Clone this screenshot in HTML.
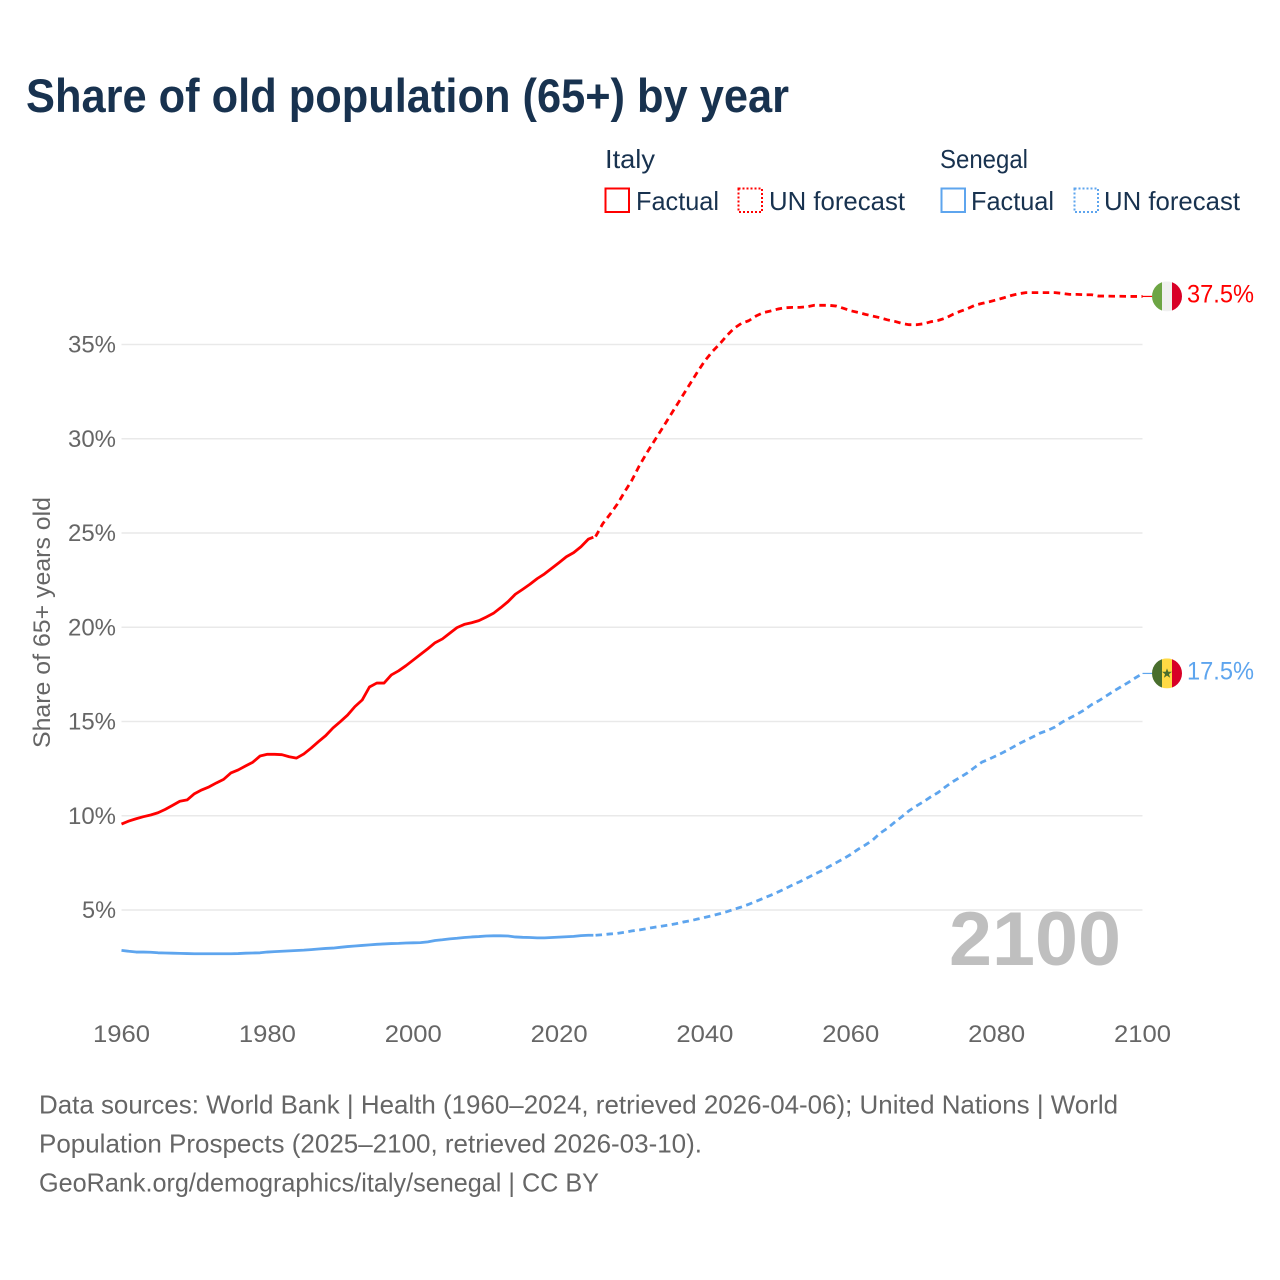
<!DOCTYPE html>
<html lang="en">
<head>
<meta charset="utf-8">
<title>Share of old population (65+) by year</title>
<style>
html,body{margin:0;padding:0;background:#fff}
svg{display:block;font-family:"Liberation Sans",sans-serif}
</style>
</head>
<body>
<svg id="chart" xmlns="http://www.w3.org/2000/svg" width="1280" height="1280" viewBox="0 0 1280 1280">
  <rect x="0" y="0" width="1280" height="1280" fill="#ffffff"/>
  <text x="26" y="112" font-size="47" font-weight="700" fill="#18324f" textLength="763" lengthAdjust="spacingAndGlyphs">Share of old population (65+) by year</text>

  <g fill="#18324f" font-size="26">
    <text x="605" y="168" textLength="50" lengthAdjust="spacingAndGlyphs">Italy</text>
    <text x="940" y="168" textLength="88" lengthAdjust="spacingAndGlyphs">Senegal</text>
    <rect x="605.5" y="188.5" width="23.5" height="23.5" fill="none" stroke="#ff0000" stroke-width="2"/>
    <text x="636" y="210" textLength="83" lengthAdjust="spacingAndGlyphs">Factual</text>
    <rect x="738.5" y="188.5" width="23.5" height="23.5" fill="none" stroke="#ff0000" stroke-width="2" stroke-dasharray="2 2"/>
    <text x="769" y="210" textLength="136" lengthAdjust="spacingAndGlyphs">UN forecast</text>
    <rect x="941.5" y="188.5" width="23.5" height="23.5" fill="none" stroke="#5ea5ee" stroke-width="2"/>
    <text x="971" y="210" textLength="83" lengthAdjust="spacingAndGlyphs">Factual</text>
    <rect x="1074.5" y="188.5" width="23.5" height="23.5" fill="none" stroke="#5ea5ee" stroke-width="2" stroke-dasharray="2 2"/>
    <text x="1104" y="210" textLength="136" lengthAdjust="spacingAndGlyphs">UN forecast</text>
  </g>

  <g id="grid"></g>
  <g id="yticks" font-size="24" fill="#666666"></g>
  <g id="xticks" font-size="24" fill="#666666"></g>
  <text transform="translate(50,748) rotate(-90)" font-size="24" fill="#666666" textLength="251" lengthAdjust="spacingAndGlyphs">Share of 65+ years old</text>

  <text x="949" y="965" font-size="76" font-weight="700" fill="#bfbfbf" textLength="172" lengthAdjust="spacingAndGlyphs">2100</text>

  <g id="series"></g>

  <g id="flagItaly">
    <clipPath id="clipItaly"><circle cx="0" cy="0" r="15"/></clipPath>
    <g clip-path="url(#clipItaly)">
      <rect x="-15" y="-15" width="10" height="30" fill="#6da544"/>
      <rect x="-5" y="-15" width="10" height="30" fill="#f0f0f0"/>
      <rect x="5" y="-15" width="10" height="30" fill="#d80027"/>
    </g>
  </g>
  <g id="flagSenegal">
    <clipPath id="clipSenegal"><circle cx="0" cy="0" r="15"/></clipPath>
    <g clip-path="url(#clipSenegal)">
      <rect x="-15" y="-15" width="10" height="30" fill="#496e2d"/>
      <rect x="-5" y="-15" width="10" height="30" fill="#ffda44"/>
      <rect x="5" y="-15" width="10" height="30" fill="#d80027"/>
      <polygon points="0,-5 1.3,-1.6 5,-1.6 2,0.7 3.1,4.3 0,2.2 -3.1,4.3 -2,0.7 -5,-1.6 -1.3,-1.6" fill="#496e2d"/>
    </g>
  </g>

  <text id="labelItaly" x="1187" font-size="25" fill="#ff0000" textLength="67" lengthAdjust="spacingAndGlyphs"></text>
  <text id="labelSenegal" x="1187" font-size="25" fill="#5ea5ee" textLength="67" lengthAdjust="spacingAndGlyphs"></text>

  <g font-size="26" fill="#666666">
    <text x="39" y="1113.5" textLength="1079" lengthAdjust="spacingAndGlyphs">Data sources: World Bank | Health (1960–2024, retrieved 2026-04-06); United Nations | World</text>
    <text x="39" y="1152.5" textLength="663" lengthAdjust="spacingAndGlyphs">Population Prospects (2025–2100, retrieved 2026-03-10).</text>
    <text x="39" y="1191.5" textLength="560" lengthAdjust="spacingAndGlyphs">GeoRank.org/demographics/italy/senegal | CC BY</text>
  </g>
</svg>
<script>
var yTickValues = [5, 10, 15, 20, 25, 30, 35];
var yTickLabels = ["5%", "10%", "15%", "20%", "25%", "30%", "35%"];
var xTickValues = [1960, 1980, 2000, 2020, 2040, 2060, 2080, 2100];
var xTickLabels = ["1960", "1980", "2000", "2020", "2040", "2060", "2080", "2100"];
var factualEndYear = 2024.7;
var forecastStartYear = 2025;
var italyFactual = [9.56,9.72,9.84,9.95,10.04,10.16,10.34,10.55,10.77,10.84,11.17,11.37,11.53,11.74,11.93,12.27,12.43,12.64,12.84,13.17,13.26,13.26,13.24,13.13,13.06,13.28,13.59,13.93,14.25,14.66,14.99,15.34,15.79,16.14,16.83,17.04,17.04,17.47,17.69,17.96,18.26,18.56,18.86,19.18,19.38,19.68,19.98,20.15,20.24,20.35,20.54,20.74,21.04,21.36,21.75,22.01,22.28,22.58,22.83,23.13,23.43,23.74,23.96,24.27,24.67,24.78];
var italyForecast = [24.81,25.5,26.0,26.54,27.19,27.81,28.57,29.23,29.85,30.46,31.08,31.7,32.32,32.94,33.56,34.14,34.62,35.02,35.47,35.86,36.12,36.26,36.51,36.69,36.78,36.88,36.95,36.97,36.97,37.0,37.08,37.08,37.08,37.04,36.92,36.79,36.7,36.6,36.51,36.42,36.31,36.23,36.12,36.05,36.05,36.1,36.21,36.28,36.4,36.6,36.76,36.9,37.08,37.18,37.27,37.37,37.48,37.6,37.69,37.75,37.75,37.75,37.75,37.75,37.71,37.66,37.66,37.64,37.64,37.57,37.57,37.56,37.56,37.55,37.55,37.55];
var senegalFactual = [2.86,2.81,2.77,2.77,2.76,2.73,2.72,2.71,2.70,2.69,2.68,2.68,2.68,2.68,2.68,2.68,2.69,2.71,2.72,2.73,2.77,2.79,2.81,2.83,2.85,2.87,2.9,2.93,2.96,2.98,3.02,3.06,3.09,3.12,3.15,3.18,3.2,3.22,3.23,3.25,3.26,3.27,3.31,3.38,3.42,3.47,3.5,3.54,3.57,3.59,3.62,3.63,3.63,3.62,3.57,3.55,3.54,3.52,3.52,3.54,3.56,3.58,3.6,3.64,3.66,3.66];
var senegalForecast = [3.66,3.69,3.73,3.76,3.82,3.89,3.94,4.01,4.08,4.14,4.2,4.27,4.36,4.43,4.52,4.61,4.7,4.8,4.91,5.04,5.16,5.3,5.46,5.62,5.78,5.95,6.13,6.33,6.5,6.7,6.89,7.08,7.3,7.51,7.72,7.95,8.22,8.45,8.71,9.07,9.33,9.65,9.95,10.27,10.52,10.75,11.01,11.24,11.54,11.81,12.04,12.28,12.57,12.85,13.01,13.19,13.38,13.59,13.81,14.0,14.19,14.39,14.53,14.71,14.97,15.18,15.38,15.61,15.89,16.1,16.35,16.6,16.83,17.06,17.31,17.55];
var italyEndLabel = "37.5%";
var senegalEndLabel = "17.5%";

var NS = "http://www.w3.org/2000/svg";
function xScale(year) { return 121.5 + (year - 1960) * 7.293; }
function yScale(pct) { return 910 - (pct - 5) * 18.85; }

function factualPath(values) {
  var d = "";
  for (var i = 0; i < values.length; i++) {
    var yr = i === values.length - 1 ? factualEndYear : 1960 + i;
    d += (i ? "L" : "M") + xScale(yr).toFixed(2) + " " + yScale(values[i]).toFixed(2);
  }
  return d;
}
function forecastPath(values) {
  var d = "";
  for (var i = 0; i < values.length; i++) {
    d += (i ? "L" : "M") + xScale(forecastStartYear + i).toFixed(2) + " " + yScale(values[i]).toFixed(2);
  }
  return d;
}

var grid = document.getElementById("grid");
var yticks = document.getElementById("yticks");
yTickValues.forEach(function (v, i) {
  var line = document.createElementNS(NS, "line");
  line.setAttribute("x1", xScale(1960));
  line.setAttribute("x2", xScale(2100));
  line.setAttribute("y1", yScale(v));
  line.setAttribute("y2", yScale(v));
  line.setAttribute("stroke", "#e9e9e9");
  line.setAttribute("stroke-width", "1.5");
  
  
  grid.appendChild(line);
  var t = document.createElementNS(NS, "text");
  t.setAttribute("x", 116);
  t.setAttribute("y", yScale(v) + 8);
  t.setAttribute("text-anchor", "end");
  t.setAttribute("textLength", yTickLabels[i].length === 2 ? 34 : 48);
  t.setAttribute("lengthAdjust", "spacingAndGlyphs");
  t.textContent = yTickLabels[i];
  
  
  yticks.appendChild(t);
});

var xticks = document.getElementById("xticks");
xTickValues.forEach(function (v, i) {
  var t = document.createElementNS(NS, "text");
  t.setAttribute("x", xScale(v));
  t.setAttribute("y", 1042);
  t.setAttribute("text-anchor", "middle");
  t.setAttribute("textLength", 57);
  t.setAttribute("lengthAdjust", "spacingAndGlyphs");
  t.textContent = xTickLabels[i];
  
  
  xticks.appendChild(t);
});

var series = document.getElementById("series");
function addPath(d, color, dashed, name) {
  var p = document.createElementNS(NS, "path");
  p.setAttribute("d", d);
  p.setAttribute("fill", "none");
  p.setAttribute("stroke", color);
  p.setAttribute("stroke-width", "2.8");
  p.setAttribute("stroke-linejoin", "round");
  if (dashed) p.setAttribute("stroke-dasharray", "6.5 4.5");
  
  
  series.appendChild(p);
}
function addConnector(lastValue, color, name) {
  var c = document.createElementNS(NS, "line");
  c.setAttribute("x1", xScale(2100));
  c.setAttribute("x2", 1152);
  c.setAttribute("y1", yScale(lastValue));
  c.setAttribute("y2", yScale(lastValue));
  c.setAttribute("stroke", color);
  c.setAttribute("stroke-width", "1.2");
  
  
  series.appendChild(c);
}
addPath(factualPath(senegalFactual), "#5ea5ee", false, "line-senegal-factual");
addPath(forecastPath(senegalForecast), "#5ea5ee", true, "line-senegal-forecast");
addPath(factualPath(italyFactual), "#ff0000", false, "line-italy-factual");
addPath(forecastPath(italyForecast), "#ff0000", true, "line-italy-forecast");
var italyLast = italyForecast[italyForecast.length - 1];
var senegalLast = senegalForecast[senegalForecast.length - 1];
addConnector(italyLast, "#ff0000", "connector-italy");
addConnector(senegalLast, "#5ea5ee", "connector-senegal");

document.getElementById("flagItaly").setAttribute("transform", "translate(1167," + yScale(italyLast).toFixed(1) + ")");
document.getElementById("flagSenegal").setAttribute("transform", "translate(1167," + yScale(senegalLast).toFixed(1) + ")");
var li = document.getElementById("labelItaly");
li.setAttribute("y", (yScale(italyLast) + 6).toFixed(1));
li.textContent = italyEndLabel;
var ls = document.getElementById("labelSenegal");
ls.setAttribute("y", (yScale(senegalLast) + 6).toFixed(1));
ls.textContent = senegalEndLabel;
</script>
</body>
</html>
